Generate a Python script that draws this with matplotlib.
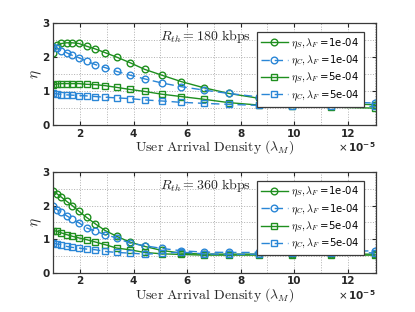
import matplotlib
matplotlib.use("Agg")
import matplotlib.pyplot as plt
from matplotlib.ticker import MultipleLocator

plt.rcParams['mathtext.fontset'] = 'cm'

x = [1.0, 1.145, 1.31, 1.50, 1.716, 1.964, 2.248, 2.573, 2.944, 3.37,
     3.857, 4.414, 5.05, 5.78, 6.62, 7.57, 8.67, 9.92, 11.36, 13.0]

# R_th = 180 kbps
top_S1 = [2.11, 2.35, 2.40, 2.42, 2.42, 2.40, 2.32, 2.24, 2.13, 2.00,
          1.84, 1.64, 1.47, 1.28, 1.10, 0.93, 0.79, 0.70, 0.64, 0.60]
top_C1 = [2.30, 2.27, 2.19, 2.13, 2.05, 1.98, 1.88, 1.78, 1.69, 1.58,
          1.47, 1.36, 1.24, 1.13, 1.03, 0.93, 0.83, 0.74, 0.69, 0.65]
top_S5 = [1.18, 1.21, 1.22, 1.22, 1.22, 1.22, 1.20, 1.19, 1.16, 1.11,
          1.05, 0.99, 0.91, 0.84, 0.76, 0.66, 0.59, 0.56, 0.53, 0.50]
top_C5 = [0.93, 0.92, 0.90, 0.89, 0.88, 0.87, 0.86, 0.84, 0.82, 0.80,
          0.78, 0.74, 0.71, 0.67, 0.64, 0.61, 0.58, 0.56, 0.55, 0.55]

# R_th = 360 kbps
bot_S1 = [2.43, 2.35, 2.25, 2.13, 2.00, 1.83, 1.65, 1.46, 1.26, 1.09,
          0.92, 0.79, 0.67, 0.59, 0.56, 0.56, 0.56, 0.56, 0.56, 0.56]
bot_C1 = [1.98, 1.88, 1.80, 1.70, 1.60, 1.49, 1.34, 1.24, 1.14, 1.04,
          0.89, 0.81, 0.73, 0.66, 0.62, 0.61, 0.61, 0.63, 0.63, 0.66]
bot_S5 = [1.26, 1.24, 1.19, 1.14, 1.09, 1.04, 0.99, 0.92, 0.84, 0.74,
          0.69, 0.61, 0.57, 0.55, 0.53, 0.53, 0.53, 0.53, 0.53, 0.53]
bot_C5 = [0.89, 0.86, 0.84, 0.79, 0.76, 0.74, 0.71, 0.69, 0.64, 0.61,
          0.59, 0.56, 0.58, 0.62, 0.57, 0.55, 0.56, 0.58, 0.59, 0.60]

labels = [r'$\eta_S, \lambda_F$ =1e-04', r'$\eta_C, \lambda_F$ =1e-04',
          r'$\eta_S, \lambda_F$ =5e-04', r'$\eta_C, \lambda_F$ =5e-04']
titles = [r'$R_{th} = 180\ \mathrm{kbps}$', r'$R_{th} = 360\ \mathrm{kbps}$']

green = '#1f8f1f'
blue = '#2a86d6'

fig = plt.figure(figsize=(4.15, 3.12), dpi=100)
ax1 = fig.add_axes([0.128, 0.599, 0.778, 0.327])
ax2 = fig.add_axes([0.128, 0.125, 0.778, 0.324])

for ax, data, title in [(ax1, (top_S1, top_C1, top_S5, top_C5), titles[0]),
                        (ax2, (bot_S1, bot_C1, bot_S5, bot_C5), titles[1])]:
    S1, C1, S5, C5 = data
    ms = 4.8
    ax.plot(x, S1, '-', color=green, marker='o', mfc='none', ms=ms, lw=1.0, mew=1.0, label=labels[0])
    ax.plot(x, C1, '--', color=blue, marker='o', mfc='none', ms=ms, lw=1.0, mew=1.0, dashes=(6, 3.5), label=labels[1])
    ax.plot(x, S5, '-', color=green, marker='s', mfc='none', ms=4.3, lw=1.0, mew=1.0, label=labels[2])
    ax.plot(x, C5, '--', color=blue, marker='s', mfc='none', ms=4.3, lw=1.0, mew=1.0, dashes=(6, 3.5), label=labels[3])
    ax.set_xlim(1, 13.05)
    ax.set_ylim(0, 3)
    ax.xaxis.set_major_locator(MultipleLocator(2))
    ax.xaxis.set_minor_locator(MultipleLocator(1))
    ax.yaxis.set_major_locator(MultipleLocator(1))
    ax.yaxis.set_minor_locator(MultipleLocator(0.5))
    ax.grid(True, which='both', linestyle=':', color='#b0b0b0', linewidth=0.7)
    ax.set_axisbelow(True)
    ax.tick_params(which='both', direction='in', top=True, right=True,
                   labelsize=7.5, colors='#262626', length=3, pad=2.5)
    ax.tick_params(which='minor', length=0)
    for lab in ax.get_xticklabels() + ax.get_yticklabels():
        lab.set_fontweight('bold')
    for sp in ax.spines.values():
        sp.set_color('#3a3a3a')
        sp.set_linewidth(0.9)
    ax.set_ylabel(r'$\eta$', fontsize=11, color='#262626', labelpad=-1)
    ax.set_xlabel(r'$\mathrm{User\ Arrival\ Density}\ (\lambda_M)$', fontsize=10,
                  color='#262626', labelpad=0)
    ax.text(0.33, 0.83, title, transform=ax.transAxes, fontsize=10, color='#262626')
    leg = ax.legend(loc='upper right', bbox_to_anchor=(0.962, 0.91), fontsize=7.3,
                    fancybox=False, framealpha=1, edgecolor='#3a3a3a',
                    handlelength=2.7, handletextpad=0.3, borderpad=0.4,
                    labelspacing=0.3, borderaxespad=0)
    leg.get_frame().set_linewidth(0.9)
    ax.text(1.0, -0.15, r'$\times\,\mathbf{10^{-5}}$', transform=ax.transAxes,
            fontsize=7.5, ha='right', va='top', color='#262626',
            math_fontfamily='dejavusans')

fig.savefig('out.png', dpi=100)
